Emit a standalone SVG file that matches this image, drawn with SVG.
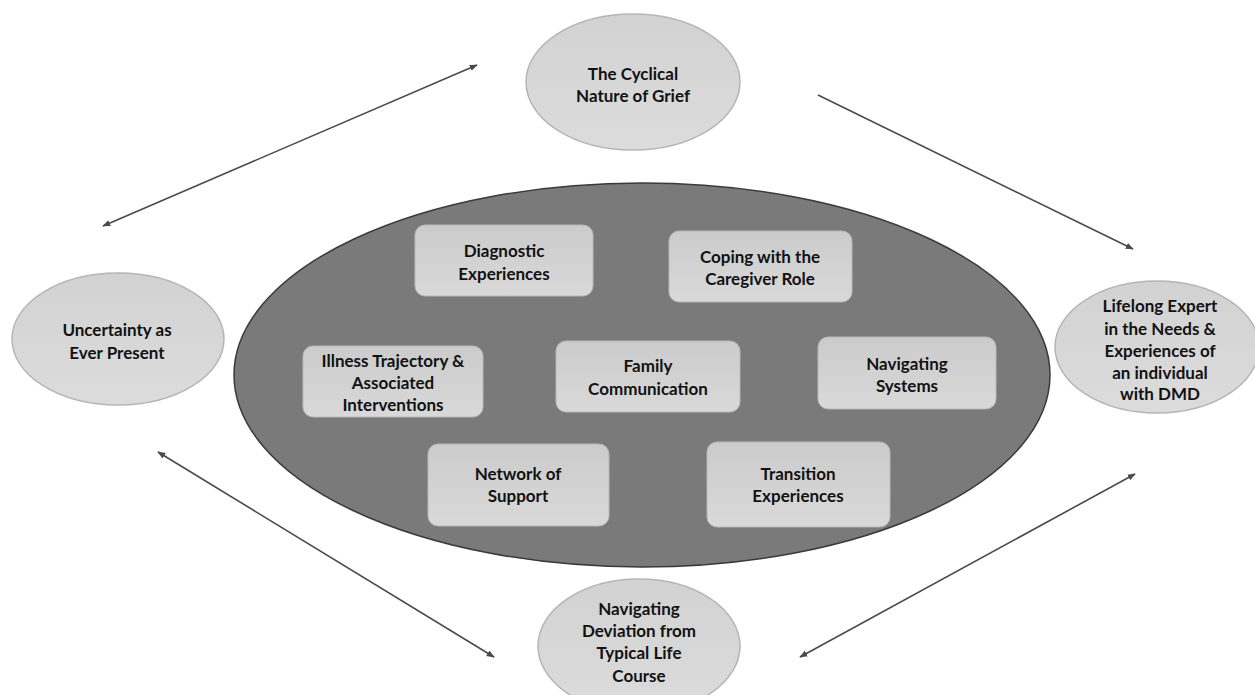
<svg xmlns="http://www.w3.org/2000/svg" width="1255" height="695" viewBox="0 0 1255 695">
<style>
text{font-family:Lato,"Open Sans","Liberation Sans",sans-serif;font-weight:bold;font-size:17px;fill:#111;text-anchor:middle;dominant-baseline:central}
.oval{fill:url(#og);stroke:#b5b5b5;stroke-width:1.5}
.box{fill:url(#bg);stroke:#b8b8b8;stroke-width:1}
.conn{stroke:#4a4a4a;stroke-width:1.6;fill:none}
</style>
<defs>
<linearGradient id="og" x1="0" y1="0" x2="0" y2="1"><stop offset="0" stop-color="#d2d2d2"/><stop offset="1" stop-color="#dcdcdc"/></linearGradient>
<linearGradient id="bg" x1="0" y1="0" x2="0" y2="1"><stop offset="0" stop-color="#cbcbcb"/><stop offset="1" stop-color="#d9d9d9"/></linearGradient>
<marker id="ah" viewBox="0 0 10 10" refX="9" refY="5" markerWidth="5" markerHeight="5" orient="auto-start-reverse"><path d="M0,1 L10,5 L0,9 Z" fill="#4a4a4a"/></marker>
</defs>
<rect width="1255" height="695" fill="#fff"/>
<g id="connectors">
<line class="conn" x1="103" y1="226" x2="477" y2="65" marker-start="url(#ah)" marker-end="url(#ah)"/>
<line class="conn" x1="818" y1="95" x2="1133" y2="249" marker-end="url(#ah)"/>
<line class="conn" x1="158" y1="452" x2="494" y2="657" marker-start="url(#ah)" marker-end="url(#ah)"/>
<line class="conn" x1="1135" y1="474" x2="800" y2="657" marker-start="url(#ah)" marker-end="url(#ah)"/>
</g>
<g id="core">
<ellipse cx="642" cy="375" rx="408" ry="192" fill="#7a7a7a" stroke="#3a3a3a" stroke-width="1.5"/>
</g>
<g id="grief"><ellipse class="oval" cx="633" cy="82" rx="107" ry="68"/><text x="633" y="73">The Cyclical</text><text x="633" y="95">Nature of Grief</text></g>
<g id="uncertainty"><ellipse class="oval" cx="118" cy="339" rx="106" ry="66"/><text x="117" y="329">Uncertainty as</text><text x="117" y="352">Ever Present</text></g>
<g id="expert"><ellipse class="oval" cx="1157" cy="347" rx="102" ry="66"/><text x="1160" y="305">Lifelong Expert</text><text x="1160" y="328">in the Needs &amp;</text><text x="1160" y="350">Experiences of</text><text x="1160" y="372">an individual</text><text x="1160" y="393">with DMD</text></g>
<g id="deviation"><ellipse class="oval" cx="639" cy="646" rx="101" ry="67"/><text x="639" y="608">Navigating</text><text x="639" y="630">Deviation from</text><text x="639" y="652">Typical Life</text><text x="639" y="675">Course</text></g>
<g id="diagnostic"><rect class="box" x="415" y="225" width="178" height="71" rx="10"/><text x="504" y="250">Diagnostic</text><text x="504" y="273">Experiences</text></g>
<g id="coping"><rect class="box" x="669" y="231" width="183" height="71" rx="10"/><text x="760" y="256">Coping with the</text><text x="760" y="278">Caregiver Role</text></g>
<g id="illness"><rect class="box" x="303" y="346" width="180" height="71" rx="10"/><text x="393" y="360">Illness Trajectory &amp;</text><text x="393" y="382">Associated</text><text x="393" y="404">Interventions</text></g>
<g id="family"><rect class="box" x="556" y="341" width="184" height="71" rx="10"/><text x="648" y="365">Family</text><text x="648" y="388">Communication</text></g>
<g id="systems"><rect class="box" x="818" y="337" width="178" height="72" rx="10"/><text x="907" y="363">Navigating</text><text x="907" y="385">Systems</text></g>
<g id="network"><rect class="box" x="428" y="444" width="181" height="82" rx="10"/><text x="518" y="473">Network of</text><text x="518" y="495">Support</text></g>
<g id="transition"><rect class="box" x="707" y="442" width="183" height="85" rx="10"/><text x="798" y="473">Transition</text><text x="798" y="495">Experiences</text></g>
</svg>
